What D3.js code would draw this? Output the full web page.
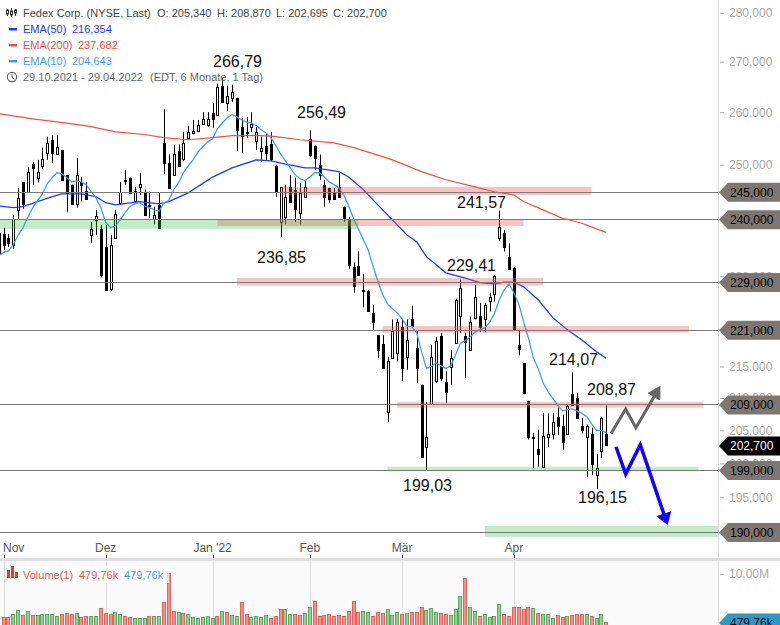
<!DOCTYPE html>
<html>
<head>
<meta charset="utf-8">
<script src="https://d3js.org/d3.v7.min.js"></script>
<style>
  html, body { margin: 0; padding: 0; background: #fff; }
  svg { display: block; font-family: "Liberation Sans", Arial, sans-serif; }
</style>
</head>
<body>
<div id="chart"></div>
<script>
// daily candles, 29.10.2021 - 29.04.2022 (index 0 = 29.10.)
const opens = [234.0,237.4,236.6,235.3,241.7,246.7,245.0,250.1,247.6,249.6,252.1,254.7,252.1,252.8,248.1,246.3,242.8,246.8,245.2,237.2,239.9,238.3,235.1,227.8,236.7,243.0,247.2,247.6,243.3,245.9,244.8,242.6,240.0,242.6,254.0,250.3,248.1,252.6,250.9,255.1,256.0,256.4,257.8,257.6,259.8,259.5,265.2,261.8,262.8,262.8,257.2,256.2,257.2,254.5,252.6,253.6,253.8,249.8,239.5,240.4,245.9,245.4,241.1,244.1,254.9,253.6,250.0,246.3,245.7,245.0,245.9,242.3,239.9,231.6,231.8,227.7,227.5,223.7,220.1,218.7,207.9,216.4,217.2,221.5,216.6,222.7,218.0,212.1,202.5,209.2,212.7,220.0,212.6,214.8,218.8,223.2,220.0,217.7,223.0,223.2,222.8,225.9,226.9,236.7,237.6,233.4,231.5,218.5,215.5,209.5,203.9,202.2,199.5,204.1,204.5,207.1,205.6,204.5,210.6,210.0,205.7,203.9,204.5,198.2,201.9,204.4];
const highs = [238.5,238.5,237.4,240.8,245.7,246.8,249.6,250.5,250.9,253.2,255.3,255.5,255.5,252.8,248.1,246.3,251.3,247.7,246.8,239.5,241.7,239.0,239.0,237.2,241.7,246.8,249.0,247.6,245.9,248.5,245.4,245.0,242.3,244.8,260.6,251.9,253.8,253.8,256.2,257.4,258.5,258.5,260.0,260.0,261.8,265.6,266.79,265.2,265.4,262.8,258.9,259.1,260.0,257.2,255.3,256.0,256.2,250.0,245.9,246.3,248.1,247.6,246.6,247.2,256.49,253.6,251.9,247.2,245.7,245.7,248.5,242.3,240.4,232.4,234.3,230.4,227.7,225.2,220.1,220.1,216.6,222.7,222.7,222.7,222.7,225.0,220.8,212.1,209.4,218.5,219.8,220.5,214.2,217.7,226.2,229.41,220.5,223.2,228.5,225.5,225.5,227.2,230.2,241.57,238.1,235.7,231.6,221.0,215.5,209.5,204.6,205.1,207.7,207.6,207.7,208.5,207.4,208.9,214.07,210.8,206.9,205.9,205.4,201.4,207.1,208.87];
const lows = [233.9,234.6,235.1,234.8,240.1,241.9,245.0,246.3,246.7,249.2,250.9,250.3,251.9,247.2,241.3,242.8,242.1,243.2,243.5,235.8,237.2,229.8,227.7,227.5,236.7,242.6,246.3,244.8,243.2,244.4,240.6,240.2,239.1,238.5,248.3,245.7,247.9,249.6,250.7,254.7,255.7,256.2,257.6,257.2,257.0,259.5,262.0,260.2,262.0,252.6,252.2,255.1,256.2,252.8,250.5,250.9,250.7,244.1,236.85,239.1,243.0,239.5,239.1,243.9,251.4,249.0,247.2,242.3,243.0,243.5,243.9,239.5,231.3,227.2,230.2,224.7,224.2,220.8,216.4,214.8,206.3,216.4,215.8,212.7,214.5,221.5,212.4,200.8,199.03,209.2,212.4,212.7,209.2,212.1,218.8,220.5,213.2,217.7,222.7,220.6,220.6,224.0,225.7,236.2,234.3,231.4,221.1,216.8,210.6,203.6,199.3,199.5,199.5,202.5,203.6,204.3,202.0,204.3,208.9,206.9,204.5,198.0,198.3,196.15,200.8,202.695];
const closes = [237.6,235.5,235.7,240.0,243.9,242.6,248.7,249.4,248.7,251.0,254.0,252.2,253.4,247.2,244.8,242.8,248.1,246.3,243.7,238.3,240.6,230.2,227.7,235.5,241.0,245.0,247.0,244.8,245.2,246.5,240.8,242.4,240.8,238.5,250.3,245.7,252.0,249.8,254.0,256.2,256.4,257.6,258.7,258.7,258.7,265.0,262.0,263.2,264.0,256.6,255.5,256.0,257.8,256.2,253.2,252.2,250.9,245.0,245.9,244.1,243.2,241.9,244.8,245.9,251.9,251.4,248.1,244.1,243.7,243.7,244.1,240.3,232.0,228.3,230.2,227.5,224.2,222.2,217.7,214.8,215.9,220.8,222.3,214.8,219.3,221.6,214.7,201.0,204.0,216.6,219.2,213.2,211.0,216.3,226.0,228.0,219.0,222.3,226.5,221.3,225.2,226.5,230.0,238.6,235.1,231.4,221.1,217.9,210.8,203.9,203.8,201.4,204.2,204.5,206.3,205.7,203.1,208.8,208.9,206.9,205.1,205.6,199.9,199.3,206.9,202.7];

const ema10 = [233.6,234.1,234.4,235.5,237.2,238.5,240.4,242.1,243.4,244.6,246.5,247.6,248.5,248.3,247.6,246.8,247.0,246.8,246.3,245.0,243.9,242.1,239.5,238.5,238.8,239.9,241.2,242.3,242.8,243.0,242.4,242.1,241.7,241.5,243.0,243.4,245.4,246.6,248.5,249.8,250.9,252.4,253.4,254.3,254.9,256.8,257.9,258.9,259.5,259.1,258.5,258.1,257.9,257.4,256.6,256.0,255.1,253.6,252.0,250.7,249.4,248.1,247.4,247.0,247.7,248.5,248.5,247.7,246.8,246.3,245.7,244.4,242.4,240.1,238.3,236.4,234.6,231.8,229.2,226.9,225.3,224.5,223.8,222.8,221.6,221.5,220.5,217.4,214.7,215.0,215.6,215.1,214.7,215.1,216.9,218.8,219.2,219.8,220.6,221.0,221.3,222.2,223.7,226.0,227.7,228.7,227.2,225.3,222.3,219.6,216.4,214.7,212.4,211.0,210.0,208.9,208.0,208.2,208.3,208.0,207.6,207.1,206.0,205.0,205.0,204.64];
const ema50Days = [0,3,5,8,11,13,17,20,22,24,29,33,35,39,44,48,53,56,59,63,65,70,72,75,78,81,84,86,88,92,96,99,102,104,106,108,111,114,117,120,123,125];
const ema50 = [242.4,242.1,242.3,243.2,244.1,244.6,244.6,244.1,243.0,242.6,243.2,242.8,243.2,244.8,247.7,249.4,250.9,250.7,250.1,249.4,249.4,248.7,247.7,245.4,242.6,239.9,237.2,236.0,233.4,230.6,229.7,228.9,228.7,229.0,229.0,228.2,226.0,223.0,221.0,219.3,217.4,216.35];
const ema200Days = [0,7,14,19,24,30,34,39,44,48,54,57,62,69,73,78,81,87,92,98,102,106,108,112,116,120,123,125];
const ema200 = [259.7,258.7,257.9,257.2,256.2,255.7,255.1,254.7,255.1,255.5,255.5,255.3,254.7,254.1,253.2,251.8,250.9,248.7,247.2,245.9,245.0,244.4,243.2,241.7,240.2,239.3,238.3,237.68];

// volume per day, starts at 01.11.
const volumes = [1.41,1.41,2.01,2.80,1.81,2.60,1.81,1.81,2.01,2.01,2.01,1.61,2.01,2.20,2.01,2.20,1.41,1.61,1.61,1.61,3.20,2.20,2.01,2.40,2.01,1.61,1.41,1.21,1.21,1.21,1.61,1.61,1.61,4.40,10.27,2.60,2.40,2.20,2.01,1.41,1.21,1.41,1.61,1.21,1.61,2.60,2.40,1.81,1.61,4.40,2.01,1.41,1.61,1.41,1.81,1.21,1.61,3.00,3.00,2.01,2.01,1.81,2.20,3.40,4.60,1.61,1.81,2.01,1.61,1.81,1.61,2.60,4.60,2.40,2.60,2.40,1.61,2.40,2.20,3.00,1.81,2.40,2.01,2.20,2.40,2.40,3.40,2.80,3.20,2.40,2.20,2.01,1.81,3.00,5.60,9.15,3.40,2.60,1.61,2.01,1.41,1.61,4.00,2.01,1.61,3.40,3.40,3.00,3.40,3.20,2.20,2.01,2.01,1.21,1.81,1.41,1.61,1.81,2.01,2.01,2.01,1.61,1.21,2.01,0.48];
const volumeUp = [0,0,1,1,0,1,0,1,1,1,1,1,0,0,0,1,0,0,1,1,0,0,0,1,1,0,0,1,1,1,0,1,1,0,0,0,1,0,1,1,1,1,1,1,0,1,0,1,1,0,0,1,1,1,1,0,0,0,1,1,0,0,1,1,0,0,0,0,0,0,0,0,0,0,1,1,0,0,0,1,1,1,0,1,0,0,0,1,1,1,0,0,1,1,1,0,1,1,0,1,1,1,1,0,0,0,0,0,0,1,0,1,1,1,0,0,1,0,0,0,1,0,1,1,0];

const monthDays = [1,22,44,64,83,106];
const monthLabels = ["Nov","Dez","Jan '22","Feb","Mär","Apr"];
const priceTicks = [280,270,260,250,230,215,210,205,200,195];
const levels = [245,240,229,221,209,199,190];

// support / resistance bands
const redFrom = [58,45,49,79,82];
const redTo = [122,108,112,142,145];
const redHigh = [245.9,240.05,229.7,221.6,209.4];
const redLow = [244.4,238.8,228.4,220.5,208.5];
const greenFrom = [0,80,100];
const greenTo = [74,144,148];
const greenHigh = [239.9,199.5,190.85];
const greenLow = [238.3,198.8,189.3];

// the two drawn scenarios
const grayDays = [126,129,131.1,134.9];
const grayPrices = [204.5,208.3,205.4,210.3];
const blueDays = [127,129,132,136.9];
const bluePrices = [202.5,198.4,202.8,192.5];

const peakLabels = ["266,79","256,49","236,85","241,57","229,41","199,03","214,07","208,87","196,15"];
const peakX = [213,297,257,457,447,403,549,587,578];
const peakY = [67,118,263,208,271,491,365,395,503];

const width = 780, height = 625;
const plotRight = 718;

const x = d3.scaleLinear().domain([0, 125]).range([-1.26, 606.24]);
const y = d3.scaleLog().domain([190, 280]).range([532, 13]);
const yVol = d3.scaleLinear().domain([0, 10]).range([624.4, 574]);

const fmt = v => d3.format(".3f")(v).replace(".", ",");
const px = v => Math.round(v) + 0.5;

const svg = d3.select("#chart").append("svg")
  .attr("width", width).attr("height", height);

const defs = svg.append("defs");
defs.append("clipPath").attr("id", "plot").append("rect")
  .attr("x", 0).attr("y", 0).attr("width", plotRight).attr("height", 558);

function arrowHead(id, color, w, h) {
  defs.append("marker").attr("id", id)
    .attr("markerUnits", "userSpaceOnUse")
    .attr("viewBox", `0 ${-h / 2} ${w} ${h}`)
    .attr("refX", 1).attr("refY", 0)
    .attr("markerWidth", w).attr("markerHeight", h)
    .attr("orient", "auto")
    .append("path").attr("d", `M0,${-h / 2}L${w},0L0,${h / 2}Z`).attr("fill", color);
}
arrowHead("headGray", "#666666", 13, 15);
arrowHead("headBlue", "#1400ff", 12, 16);

const plot = svg.append("g").attr("clip-path", "url(#plot)");

// candles
const days = d3.range(opens.length);
const candle = plot.append("g").selectAll("g").data(days).enter().append("g");
candle.append("line")
  .attr("x1", d => px(x(d))).attr("x2", d => px(x(d)))
  .attr("y1", d => y(highs[d])).attr("y2", d => y(lows[d]))
  .attr("stroke", "#000").attr("stroke-width", 1);
candle.append("rect")
  .attr("x", d => px(x(d)) - 1).attr("width", 2)
  .attr("y", d => px(y(Math.max(opens[d], closes[d]))))
  .attr("height", d => Math.max(1, Math.round(Math.abs(y(opens[d]) - y(closes[d])))))
  .attr("fill", d => closes[d] > opens[d] ? "#fff" : "#000")
  .attr("stroke", "#000").attr("stroke-width", 1);

// moving averages
const emaLine = d3.line().curve(d3.curveLinear);
plot.append("path")
  .attr("d", emaLine(ema200.map((v, i) => [x(ema200Days[i]), y(v)])))
  .attr("fill", "none").attr("stroke", "#f2503f").attr("stroke-width", 1.2);
plot.append("path")
  .attr("d", emaLine(ema50.map((v, i) => [x(ema50Days[i]), y(v)])))
  .attr("fill", "none").attr("stroke", "#1c3cf5").attr("stroke-width", 1.3);
plot.append("path")
  .attr("d", emaLine(ema10.map((v, i) => [x(i), y(v)])))
  .attr("fill", "none").attr("stroke", "#3f9df2").attr("stroke-width", 1.3);

// bands
redFrom.forEach((d, i) => {
  plot.append("rect")
    .attr("x", x(d)).attr("width", x(redTo[i]) - x(d))
    .attr("y", y(redHigh[i])).attr("height", y(redLow[i]) - y(redHigh[i]))
    .attr("fill", "rgb(240,90,90)").attr("fill-opacity", 0.36);
});
greenFrom.forEach((d, i) => {
  plot.append("rect")
    .attr("x", x(d)).attr("width", x(greenTo[i]) - x(d))
    .attr("y", y(greenHigh[i])).attr("height", y(greenLow[i]) - y(greenHigh[i]))
    .attr("fill", "rgb(60,190,70)").attr("fill-opacity", 0.3);
});

// horizontal levels
plot.append("g").selectAll("line").data(levels).enter().append("line")
  .attr("x1", 0).attr("x2", plotRight)
  .attr("y1", d => px(y(d))).attr("y2", d => px(y(d)))
  .attr("stroke", "#7a7a7a").attr("stroke-width", 1);

// scenario arrows
plot.append("path")
  .attr("d", emaLine(grayDays.map((d, i) => [x(d), y(grayPrices[i])])))
  .attr("fill", "none").attr("stroke", "#666666").attr("stroke-width", 3)
  .attr("marker-end", "url(#headGray)");
plot.append("path")
  .attr("d", emaLine(blueDays.map((d, i) => [x(d), y(bluePrices[i])])))
  .attr("fill", "none").attr("stroke", "#1400ff").attr("stroke-width", 3.5)
  .attr("marker-end", "url(#headBlue)");

// high / low labels
svg.append("g").selectAll("text").data(peakLabels).enter().append("text")
  .attr("x", (d, i) => peakX[i]).attr("y", (d, i) => peakY[i])
  .attr("font-size", 16).attr("fill", "#111").text(d => d);

// x axis
svg.append("g").selectAll("text").data(monthLabels).enter().append("text")
  .attr("x", (d, i) => i == 0 ? 3 : x(monthDays[i]))
  .attr("y", 552)
  .attr("text-anchor", (d, i) => i == 0 ? "start" : "middle")
  .attr("font-size", 12).attr("fill", "#555").text(d => d);
svg.append("g").selectAll("line").data(monthDays).enter().append("line")
  .attr("x1", d => px(x(d))).attr("x2", d => px(x(d)))
  .attr("y1", 555).attr("y2", 558).attr("stroke", "#333");

// volume pane
svg.append("rect").attr("x", 0).attr("y", 558).attr("width", width).attr("height", 3).attr("fill", "#dedede");
svg.append("rect").attr("x", 0).attr("y", 561).attr("width", plotRight).attr("height", 64).attr("fill", "#fafafa");
svg.append("g").selectAll("line").data(monthDays).enter().append("line")
  .attr("x1", d => px(x(d))).attr("x2", d => px(x(d)))
  .attr("y1", 561).attr("y2", height).attr("stroke", "#dcdcdc");
svg.append("g").selectAll("rect").data(volumes).enter().append("rect")
  .attr("x", (d, i) => Math.round(x(i + 1)) - 1.5).attr("width", 3)
  .attr("y", d => px(yVol(d))).attr("height", d => height + 5 - yVol(d))
  .attr("fill", (d, i) => volumeUp[i] ? "#93cf93" : "#f58f88")
  .attr("stroke", (d, i) => volumeUp[i] ? "#5ea860" : "#e9635b").attr("stroke-width", 1);

const volLegend = svg.append("g");
volLegend.append("rect").attr("x", 5).attr("y", 566).attr("width", 164).attr("height", 17)
  .attr("fill", "#fff").attr("fill-opacity", 0.7);
[[7, 8], [11, 12], [15, 6]].forEach(b => {
  volLegend.append("rect").attr("x", b[0]).attr("y", 578 - b[1]).attr("width", 3).attr("height", b[1]).attr("fill", "#e53935");
});
volLegend.append("text").attr("x", 23).attr("y", 579).attr("font-size", 11).attr("fill", "#ef5350").text("Volume(1)");
volLegend.append("text").attr("x", 79).attr("y", 579).attr("font-size", 11).attr("fill", "#ef5350").text("479,76k");
volLegend.append("text").attr("x", 124).attr("y", 579).attr("font-size", 11).attr("fill", "#45a9cc").text("479,76k");

// right axis
const axisG = svg.append("g").attr("transform", `translate(${plotRight},0)`)
  .call(d3.axisRight(y).tickValues(priceTicks).tickFormat(fmt).tickSize(4).tickPadding(7));
axisG.select(".domain").remove();
axisG.selectAll("line").attr("stroke", "#aaa").attr("transform", "translate(2,0)");
axisG.selectAll("text").attr("font-size", 12).attr("fill", "#a8a8a8").attr("font-family", "Liberation Sans");
svg.append("line").attr("x1", px(plotRight)).attr("x2", px(plotRight)).attr("y1", 0).attr("y2", height).attr("stroke", "#dcdcdc");

const volAxis = svg.append("g").attr("transform", `translate(${plotRight},0)`)
  .call(d3.axisRight(yVol).tickValues([10]).tickFormat(() => "10,00M").tickSize(4).tickPadding(7));
volAxis.select(".domain").remove();
volAxis.selectAll("line").attr("stroke", "#aaa").attr("transform", "translate(2,0)");
volAxis.selectAll("text").attr("font-size", 12).attr("fill", "#a8a8a8").attr("font-family", "Liberation Sans");

// price tags
function tag(cy, fill, color, label) {
  svg.append("path")
    .attr("d", `M${plotRight + 1},${cy}L${plotRight + 10},${cy - 9.5}H${width}V${cy + 9.5}H${plotRight + 10}Z`)
    .attr("fill", fill);
  svg.append("text").attr("x", 730).attr("y", cy + 4.5)
    .attr("font-size", 12).attr("fill", color).text(label);
}
levels.forEach(l => tag(y(l) + 0.5, "#7d7773", "#000", fmt(l)));
tag(y(closes[closes.length - 1]) + 0.5, "#000", "#fff", fmt(closes[closes.length - 1]));
tag(yVol(volumes[volumes.length - 1]) + 1, "#2a9ac4", "#111", "479,76k");

// legend
const legend = svg.append("g").attr("font-size", 11);
const icon = legend.append("g").attr("stroke", "#333").attr("fill", "none");
[[7, 9, 16, 10, 14], [11, 8, 17, 11, 15], [15, 9, 16, 10, 13]].forEach(c => {
  icon.append("line").attr("x1", c[0] + 0.5).attr("x2", c[0] + 0.5).attr("y1", c[1]).attr("y2", c[2]);
  icon.append("rect").attr("x", c[0] - 0.5).attr("y", c[3]).attr("width", 2).attr("height", c[4] - c[3]).attr("fill", "#fff");
});
legend.append("text").attr("x", 23).attr("y", 17).attr("fill", "#444").text("Fedex Corp. (NYSE, Last)");
legend.append("text").attr("x", 157).attr("y", 17).attr("fill", "#444").text("O: 205,340");
legend.append("text").attr("x", 217).attr("y", 17).attr("fill", "#444").text("H: 208,870");
legend.append("text").attr("x", 276).attr("y", 17).attr("fill", "#444").text("L: 202,695");
legend.append("text").attr("x", 333).attr("y", 17).attr("fill", "#444").text("C: 202,700");
[["EMA(50)", "216,354", 72, "#1c3cf5", 33], ["EMA(200)", "237,682", 78, "#f2503f", 49], ["EMA(10)", "204,643", 72, "#3f9df2", 65]].forEach(r => {
  legend.append("rect").attr("x", 9).attr("y", r[4] - 5).attr("width", 8).attr("height", 2.5).attr("fill", r[3]);
  legend.append("text").attr("x", 23).attr("y", r[4]).attr("fill", r[3]).text(r[0]);
  legend.append("text").attr("x", r[2]).attr("y", r[4]).attr("fill", r[3]).text(r[1]);
});
legend.append("circle").attr("cx", 12).attr("cy", 77).attr("r", 4.6).attr("fill", "none").attr("stroke", "#555").attr("stroke-width", 1.1);
legend.append("path").attr("d", "M12,74V77.5L14.5,79").attr("fill", "none").attr("stroke", "#555");
legend.append("text").attr("x", 23).attr("y", 81).attr("fill", "#666").text("29.10.2021 - 29.04.2022");
legend.append("text").attr("x", 150).attr("y", 81).attr("fill", "#666").text("(EDT, 6 Monate, 1 Tag)");
</script>
</body>
</html>
